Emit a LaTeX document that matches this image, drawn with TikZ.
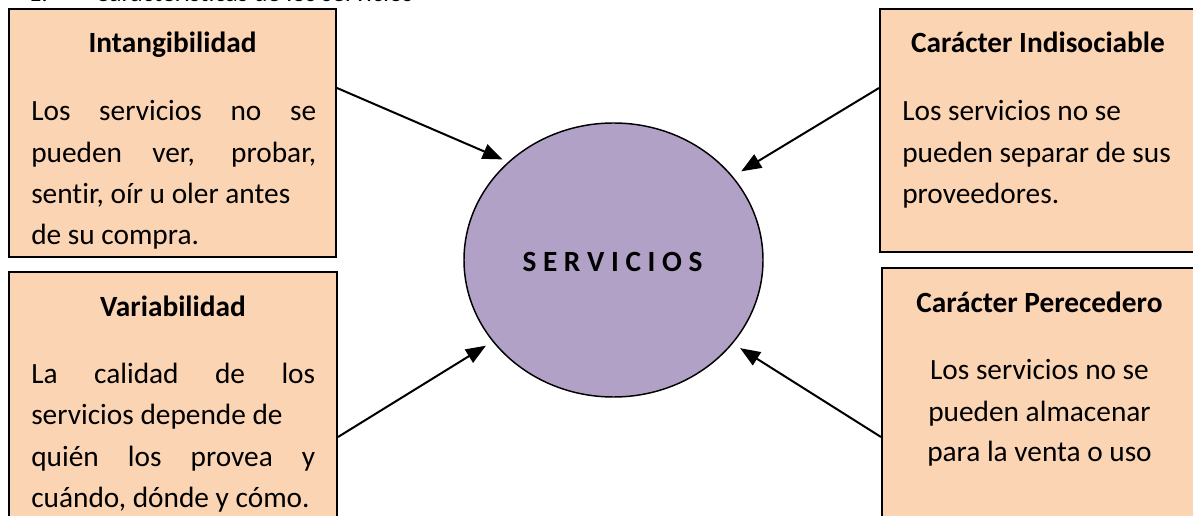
\documentclass[tikz,border=0pt]{standalone}
\usepackage{fontspec}
\setmainfont{Carlito}[Ligatures={NoCommon}]
\usetikzlibrary{arrows.meta,shapes.geometric}
\definecolor{peach}{HTML}{FBD4B4}
\definecolor{lilac}{HTML}{B2A1C7}
\begin{document}
\begin{tikzpicture}[x=0.75pt,y=-0.75pt,
  card/.style={draw=black, fill=peach, line width=1.5pt, inner sep=0pt},
  hub/.style={ellipse, draw=black, fill=lilac, line width=1.1pt, inner sep=0pt,
    minimum width=224.25pt, minimum height=205.5pt},
  body/.style={anchor=base west, inner sep=0pt, font=\fontsize{22}{26}\selectfont},
  bodyc/.style={anchor=base, inner sep=0pt, font=\fontsize{22}{26}\selectfont},
  head/.style={anchor=base, inner sep=0pt, font=\fontsize{22}{26}\selectfont\bfseries},
  feed/.style={line width=1.5pt, -{Triangle[length=15pt,width=11.5pt]}}]
\useasboundingbox (0,0) rectangle (1193,516);
\clip (0,0) rectangle (1193,516);

% heading of the section, mostly above the page
\node[anchor=base west, inner sep=0pt, font=\fontsize{19.5}{24}\selectfont] (secnum) at (28,1.2) {1.};
\node[anchor=base west, inner sep=0pt, font=\fontsize{19.5}{24}\selectfont] (sectitle) at (95,1.2) {Características de los servicios};

% the four feature cards
\node[card, minimum width=245.25pt, minimum height=186pt] (tl) at (172.5,133) {};
\node[card, minimum width=246pt, minimum height=201pt] (bl) at (173,406) {};
\node[card, minimum width=237.75pt, minimum height=182.25pt] (tr) at (1038.5,130.5) {};
\node[card, minimum width=236.25pt, minimum height=204pt] (br) at (1039.5,404) {};

% central concept
\node[hub] (srv) at (613.5,260) {};
\node[head] (srvtxt) at (612.5,272) {S E R V I C I O S};

% Intangibilidad
\node[head] (tlh) at (172.5,53) {Intangibilidad};
\node[body] (tl1) at (31,121) {\makebox[213.75pt][s]{Los servicios no se}};
\node[body] (tl2) at (31,163) {\makebox[213.75pt][s]{pueden ver, probar,}};
\node[body] (tl3) at (31,204) {sentir, oír u oler antes};
\node[body] (tl4) at (31,245) {de su compra.};

% Variabilidad
\node[head] (blh) at (173,317) {Variabilidad};
\node[body] (bl1) at (31,384) {\makebox[213pt][s]{La calidad de los}};
\node[body] (bl2) at (31,425) {servicios depende de};
\node[body] (bl3) at (31,467) {\makebox[213pt][s]{quién los provea y}};
\node[body] (bl4) at (31,508) {cuándo, dónde y cómo.};

% Carácter Indisociable
\node[head] (trh) at (1038,53) {Carácter Indisociable};
\node[body] (tr1) at (902,121) {Los servicios no se};
\node[body] (tr2) at (902,163) {pueden separar de sus};
\node[body] (tr3) at (902,204) {proveedores.};

% Carácter Perecedero
\node[head] (brh) at (1039.5,313) {Carácter Perecedero};
\node[bodyc] (br1) at (1039.5,380) {Los servicios no se};
\node[bodyc] (br2) at (1039.5,422) {pueden almacenar};
\node[bodyc] (br3) at (1039.5,462) {para la venta o uso};

% arrows from each card into the hub
\coordinate (tlout) at (tl.east |- 0,88);
\coordinate (trout) at (tr.west |- 0,88);
\coordinate (blout) at (bl.east |- 0,437);
\coordinate (brout) at (br.west |- 0,437);
\draw[feed, shorten >=4.5pt] (tlout) -- (srv.137.6);
\draw[feed, shorten >=7.3pt] (trout) -- (srv.35.1);
\draw[feed, shorten >=5.8pt] (blout) -- (srv.214.7);
\draw[feed, shorten >=6.4pt] (brout) -- (srv.325.5);
\end{tikzpicture}
\end{document}
